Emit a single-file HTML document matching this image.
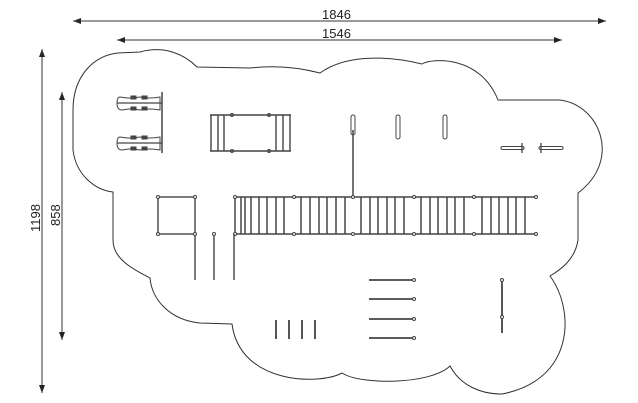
<!DOCTYPE html>
<html><head><meta charset="utf-8"><style>
html,body{margin:0;padding:0;background:#fff;}
svg{display:block}
text{font-family:"Liberation Sans",sans-serif;font-size:13px;fill:#222}
</style></head><body>
<svg width="638" height="403" viewBox="0 0 638 403" xmlns="http://www.w3.org/2000/svg">
<defs>
<marker id="a" markerWidth="8" markerHeight="6" refX="8" refY="3" orient="auto" markerUnits="userSpaceOnUse"><path d="M0,0 L8,3 L0,6 Z" fill="#222"/></marker>
</defs>
<g stroke="#333" stroke-width="1" fill="none">
<!-- dimension lines -->
<line x1="606" y1="21" x2="73" y2="21" marker-end="url(#a)"/>
<line x1="73" y1="21" x2="606" y2="21" marker-end="url(#a)"/>
<line x1="562" y1="40" x2="117" y2="40" marker-end="url(#a)"/>
<line x1="117" y1="40" x2="562" y2="40" marker-end="url(#a)"/>
<line x1="42" y1="393" x2="42" y2="49" marker-end="url(#a)"/>
<line x1="42" y1="49" x2="42" y2="393" marker-end="url(#a)"/>
<line x1="62" y1="340" x2="62" y2="92" marker-end="url(#a)"/>
<line x1="62" y1="92" x2="62" y2="340" marker-end="url(#a)"/>
<!-- outline -->
<path d="M 118 53 L 140 52 C 165 45 185 55 197 67 L 250 68 Q 285 64 320 73 C 345 55 385 55 422 64 C 432 58 480 55 498 100 L 560 100 C 600 105 622 160 578 193 L 578 240 C 575 260 560 270 550 276 C 575 310 575 380 502 394 C 480 394 460 385 450 366 C 430 385 360 385 342 373 C 320 385 240 385 232 324 L 200 323 C 170 320 152 300 150 278 C 135 270 113 260 113 240 L 113 192 C 95 190 76 175 73 150 L 73 110 C 73 75 95 55 118 53 Z"/>
</g>
<text x="322" y="19">1846</text>
<text x="322" y="38">1546</text>
<text transform="translate(40,232) rotate(-90)">1198</text>
<text transform="translate(60,226) rotate(-90)">858</text>
<g stroke="#444" fill="none" stroke-width="1">
<!-- swings -->
<line x1="162" y1="92" x2="162" y2="153" stroke-width="1.5"/>
<path d="M120 97 Q 117 97 117 103 Q 117 110 122 110 Q 130 108 140 110 Q 150 108 160 110 L 160 97 Q 150 99 140 97 Q 130 99 120 97 Z"/>
<line x1="117" y1="103" x2="162" y2="103" stroke-width="1.3"/>
<path d="M120 137 Q 117 137 117 143 Q 117 150 122 150 Q 130 148 140 150 Q 150 148 160 150 L 160 137 Q 150 139 140 137 Q 130 139 120 137 Z"/>
<line x1="117" y1="143" x2="162" y2="143" stroke-width="1.3"/>
<g fill="#444"><rect x="131" y="96" width="5" height="3"/><rect x="142" y="96" width="5" height="3"/><rect x="131" y="107" width="5" height="3"/><rect x="142" y="107" width="5" height="3"/>
<rect x="131" y="136" width="5" height="3"/><rect x="142" y="136" width="5" height="3"/><rect x="131" y="147" width="5" height="3"/><rect x="142" y="147" width="5" height="3"/></g>
<!-- rect ladders -->
<g stroke-width="1.4">
<line x1="210" y1="115" x2="291" y2="115"/><line x1="210" y1="151" x2="291" y2="151"/>
<line x1="211" y1="115" x2="211" y2="151"/><line x1="218" y1="115" x2="218" y2="151"/><line x1="224" y1="115" x2="224" y2="151"/>
<line x1="276" y1="115" x2="276" y2="151"/><line x1="283" y1="115" x2="283" y2="151"/><line x1="290" y1="115" x2="290" y2="151"/>
</g>
<circle cx="232" cy="115" r="1.5"/><circle cx="269" cy="115" r="1.5"/><circle cx="232" cy="151" r="1.5"/><circle cx="269" cy="151" r="1.5"/>
<!-- pole -->
<line x1="353" y1="130" x2="353" y2="198" stroke-width="1.5"/>
<rect x="351" y="115" width="4" height="20" rx="2"/>
<rect x="396" y="115" width="4" height="24" rx="2"/>
<rect x="443" y="115" width="4" height="24" rx="2"/>
<!-- crosses -->
<rect x="501" y="146.5" width="23" height="3" rx="1.5"/>
<line x1="522" y1="143" x2="522" y2="153" stroke-width="1.3"/>
<rect x="539" y="146.5" width="24" height="3" rx="1.5"/>
<line x1="541" y1="143" x2="541" y2="153" stroke-width="1.3"/>
<!-- big ladder -->
<g stroke-width="1.5">
<line x1="235" y1="197" x2="536" y2="197"/><line x1="235" y1="234" x2="536" y2="234"/>
<line x1="235" y1="197" x2="235" y2="234"/><line x1="241" y1="197" x2="241" y2="234"/><line x1="245" y1="197" x2="245" y2="234"/>
<line x1="251" y1="197" x2="251" y2="234"/><line x1="259" y1="197" x2="259" y2="234"/><line x1="267" y1="197" x2="267" y2="234"/><line x1="276" y1="197" x2="276" y2="234"/><line x1="284" y1="197" x2="284" y2="234"/>
<line x1="301" y1="197" x2="301" y2="234"/><line x1="310" y1="197" x2="310" y2="234"/><line x1="319" y1="197" x2="319" y2="234"/><line x1="327" y1="197" x2="327" y2="234"/><line x1="336" y1="197" x2="336" y2="234"/><line x1="345" y1="197" x2="345" y2="234"/>
<line x1="361" y1="197" x2="361" y2="234"/><line x1="370" y1="197" x2="370" y2="234"/><line x1="378" y1="197" x2="378" y2="234"/><line x1="387" y1="197" x2="387" y2="234"/><line x1="395" y1="197" x2="395" y2="234"/><line x1="404" y1="197" x2="404" y2="234"/>
<line x1="421" y1="197" x2="421" y2="234"/><line x1="430" y1="197" x2="430" y2="234"/><line x1="438" y1="197" x2="438" y2="234"/><line x1="447" y1="197" x2="447" y2="234"/><line x1="455" y1="197" x2="455" y2="234"/><line x1="464" y1="197" x2="464" y2="234"/>
<line x1="482" y1="197" x2="482" y2="234"/><line x1="491" y1="197" x2="491" y2="234"/><line x1="499" y1="197" x2="499" y2="234"/><line x1="508" y1="197" x2="508" y2="234"/><line x1="516" y1="197" x2="516" y2="234"/><line x1="525" y1="197" x2="525" y2="234"/>
</g>
<g fill="#fff">
<circle cx="235" cy="197" r="1.5"/><circle cx="294" cy="197" r="1.5"/><circle cx="414" cy="197" r="1.5"/><circle cx="474" cy="197" r="1.5"/><circle cx="536" cy="197" r="1.5"/><circle cx="353" cy="197" r="1.5"/>
<circle cx="235" cy="234" r="1.5"/><circle cx="294" cy="234" r="1.5"/><circle cx="353" cy="234" r="1.5"/><circle cx="414" cy="234" r="1.5"/><circle cx="474" cy="234" r="1.5"/><circle cx="536" cy="234" r="1.5"/>
</g>
<!-- square + posts -->
<g stroke-width="1.4">
<rect x="158" y="197" width="37" height="37"/>
<line x1="195" y1="234" x2="195" y2="280"/>
<line x1="214" y1="234" x2="214" y2="280"/>
<line x1="234" y1="234" x2="234" y2="280"/>
</g>
<g fill="#fff"><circle cx="158" cy="197" r="1.5"/><circle cx="195" cy="197" r="1.5"/><circle cx="158" cy="234" r="1.5"/><circle cx="195" cy="234" r="1.5"/><circle cx="214" cy="234" r="1.5"/></g>
<!-- short verticals -->
<g stroke-width="1.8">
<line x1="276" y1="320" x2="276" y2="339"/><line x1="289" y1="320" x2="289" y2="339"/><line x1="302" y1="320" x2="302" y2="339"/><line x1="315" y1="320" x2="315" y2="339"/>
<line x1="369" y1="280" x2="414" y2="280"/><line x1="369" y1="299" x2="414" y2="299"/><line x1="369" y1="319" x2="414" y2="319"/><line x1="369" y1="338" x2="414" y2="338"/>
<line x1="502" y1="280" x2="502" y2="333"/>
</g>
<g fill="#fff"><circle cx="414" cy="280" r="1.5"/><circle cx="414" cy="299" r="1.5"/><circle cx="414" cy="319" r="1.5"/><circle cx="414" cy="338" r="1.5"/>
<circle cx="502" cy="280" r="1.5"/><circle cx="502" cy="317" r="1.5"/></g>
</g>
</svg>
</body></html>
